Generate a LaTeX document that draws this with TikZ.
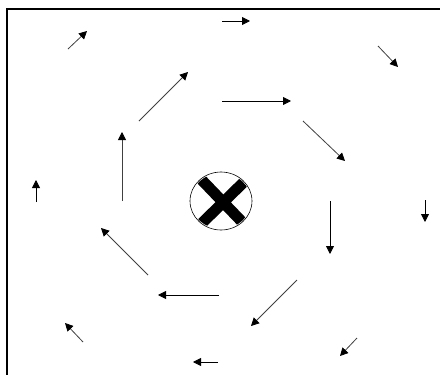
\documentclass[tikz,border=0pt]{standalone}
\usetikzlibrary{arrows.meta}
\begin{document}
\begin{tikzpicture}[x=1pt,y=-1pt,
  vec/.style={-{Triangle[length=8pt,width=8pt,color=black]},line width=0.8pt,black},
  dvec/.style={vec,draw=black!75}]
\useasboundingbox (0,0) rectangle (440,375);
\fill[white] (0,0) rectangle (440,375);
\draw[line width=1.2pt] (7,380) -- (7,9) -- (445,9);
% centre
\draw[line width=0.6pt,fill=white] (221,201) ellipse [x radius=31,y radius=29];
\coordinate (xa) at (197,175); \coordinate (xb) at (246,226);
\coordinate (xc) at (249,177); \coordinate (xd) at (199,226);
\begin{scope}
\clip (221,201) ellipse [x radius=30,y radius=28];
\draw[line width=11pt] (xa) -- (xb);
\draw[line width=11pt] (xc) -- (xd);
\end{scope}
% inner ring
\draw[vec] (222,101) -- (291,101);
\draw[dvec] (303,121) -- (345,161);
\draw[vec] (330,201) -- (330,254);
\draw[dvec] (297,280) -- (251,326);
\draw[vec] (219,295) -- (158,295);
\draw[dvec] (148,275) -- (101,228);
\draw[dvec] (122,201) -- (122,132);
\draw[dvec] (139,121) -- (188,72);
% outer ring
\draw[vec] (222,21) -- (250,21);
\draw[dvec] (378,46) -- (398,67);
\draw[vec] (425,200) -- (425,222);
\draw[dvec] (357,338) -- (340,356);
\draw[vec] (218,362) -- (193,362);
\draw[dvec] (83,342) -- (65,323);
\draw[vec] (36,202) -- (36,180);
\draw[dvec] (68,49) -- (87,31);
\end{tikzpicture}
\end{document}
